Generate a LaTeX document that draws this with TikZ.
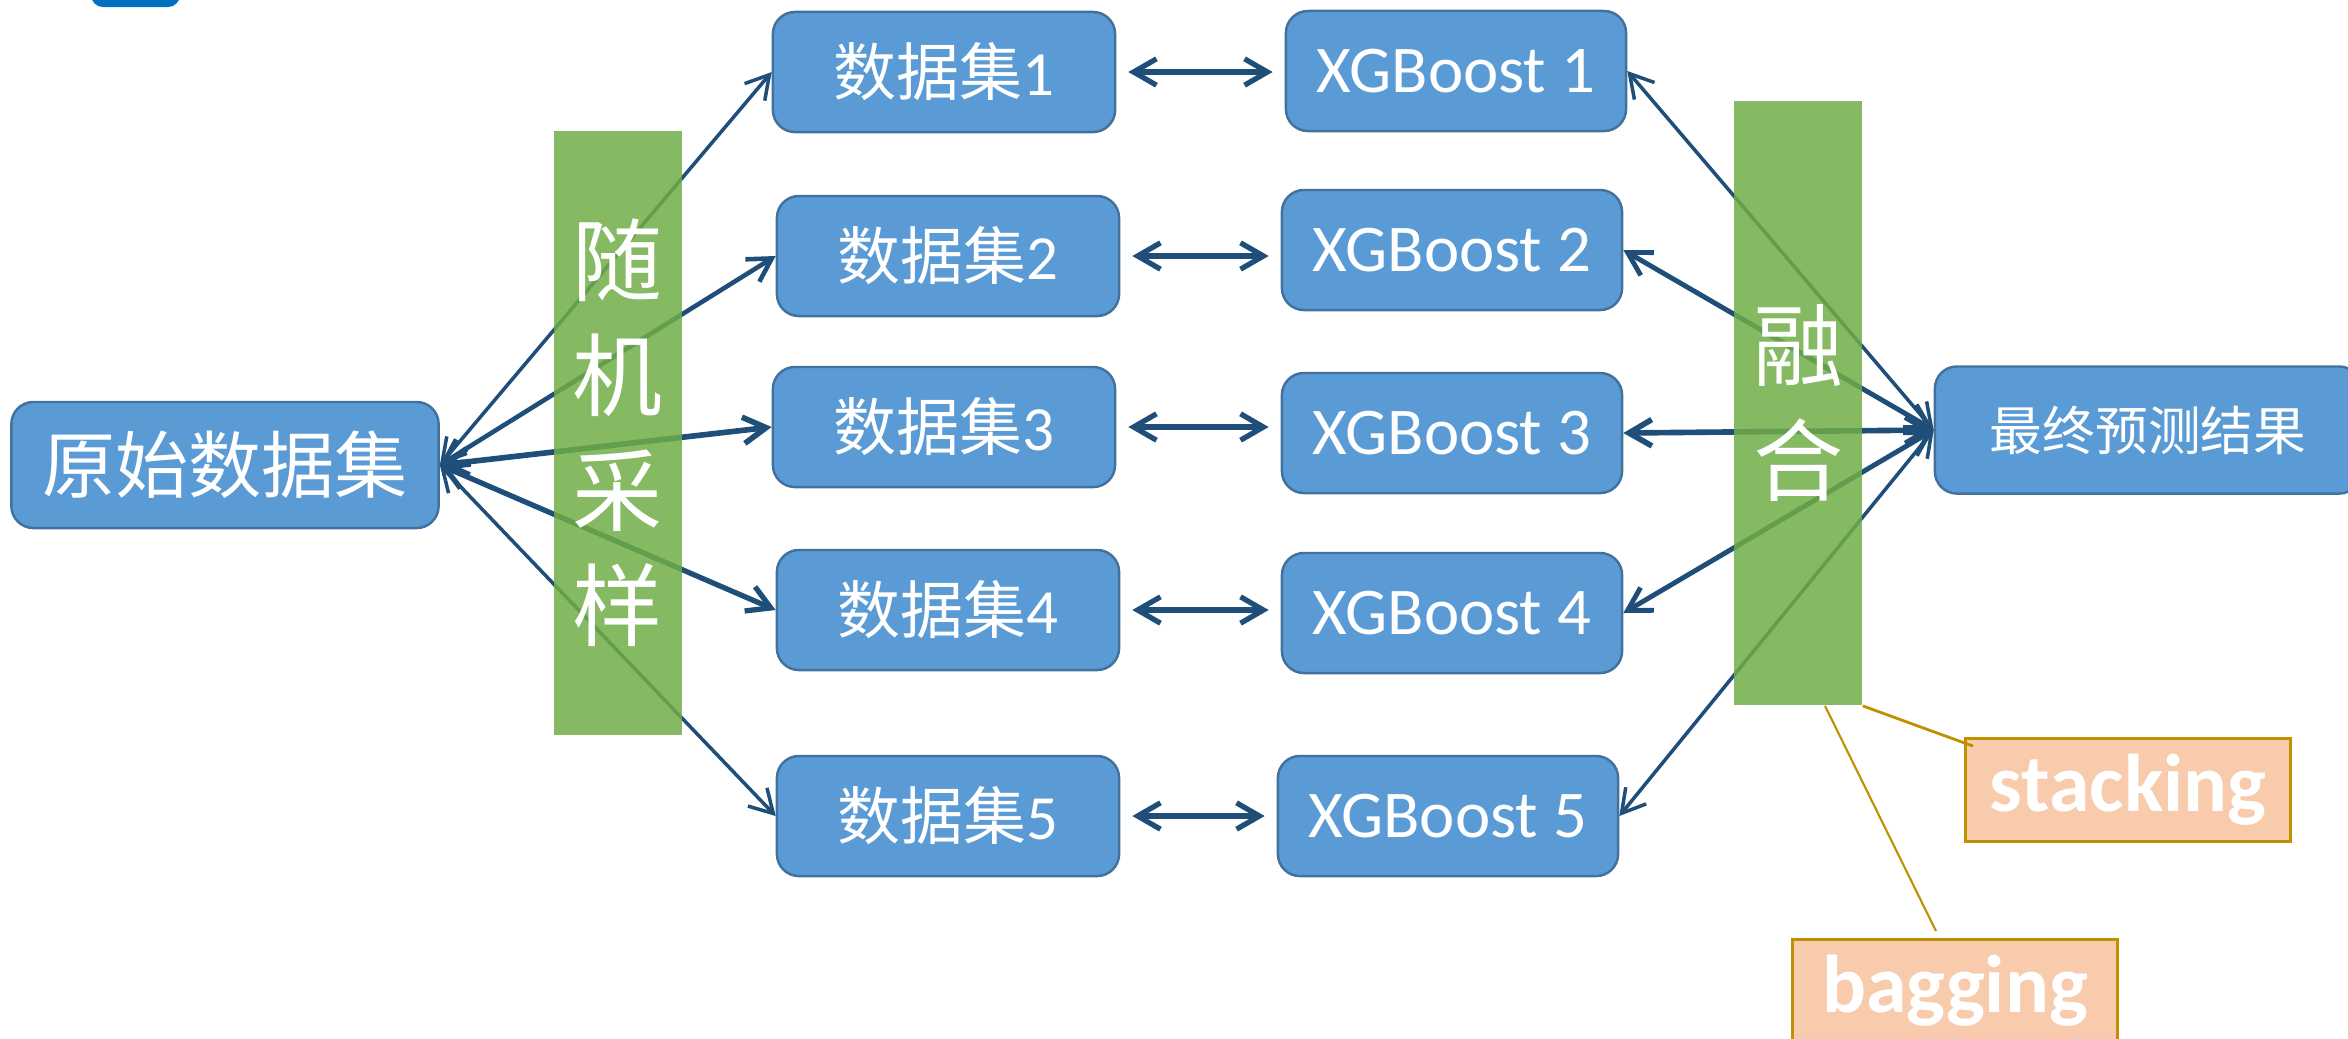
\documentclass[tikz,border=0pt]{standalone}
\usepackage{fontspec}
\setmainfont{Carlito}
\newfontfamily\cjk{Noto Sans CJK SC}
\usetikzlibrary{calc}
\usetikzlibrary{arrows.meta}

\definecolor{boxblue}{RGB}{91,155,213}
\definecolor{boxedge}{RGB}{65,113,156}
\definecolor{arrowblue}{RGB}{31,78,121}
\definecolor{bargreen}{RGB}{112,173,71}
\definecolor{tagfill}{RGB}{248,203,173}
\definecolor{tagedge}{RGB}{191,144,0}
\definecolor{cornerblue}{RGB}{0,112,192}

\begin{document}
\begin{tikzpicture}[x=0.01cm,y=-0.01cm,
  blk/.style={draw=boxedge,line width=0.7pt,fill=boxblue,rounded corners=0.22cm,text=white,inner sep=0pt,minimum height=1.2cm},
  dset/.style={blk,minimum width=3.42cm,font=\fontsize{17.9}{20}\selectfont},
  xgb/.style={blk,minimum width=3.4cm,font=\fontsize{19}{22}\selectfont},
  greenbar/.style={fill=bargreen,fill opacity=0.85,text opacity=1,text=white,inner sep=0pt,minimum width=1.28cm,minimum height=6.04cm,align=center,font=\cjk\fontsize{25.6}{32.7}\selectfont},
  tag/.style={draw=tagedge,line width=0.8pt,fill=tagfill,text=white,inner sep=0pt,minimum width=3.25cm,minimum height=1.03cm,font=\bfseries\fontsize{23.3}{26}\selectfont},
  link/.style={arrowblue,{Straight Barb[length=6.5pt,width=7.5pt]}-{Straight Barb[length=6.5pt,width=7.5pt]}}
]

\useasboundingbox (0,0) rectangle (2348,1038);
\clip (0,0) rectangle (2348,1038);

\fill[cornerblue,rounded corners=0.12cm] (91,-40) rectangle (180,7);

\node[blk,minimum width=4.27cm,minimum height=1.26cm,font=\cjk\fontsize{20.8}{24}\selectfont] (orig) at (225,465) {原始数据集};

\foreach \i/\x/\y in {1/944/72,2/948/256,3/944/427,4/948/610,5/948/816}
  \node[dset] (ds\i) at (\x,\y) {{\cjk 数据集}\i};

\foreach \i/\x/\y in {1/1456/71,2/1452/250,3/1452/433,4/1452/613,5/1448/816}
  \node[xgb] (xgb\i) at (\x,\y) {XGBoost \i};

\node[blk,minimum width=4.26cm,minimum height=1.27cm,font=\cjk\fontsize{15}{18}\selectfont] (final) at (2148,430) {最终预测结果};

% fans
\foreach \i/\w in {1/1.0,2/1.3,3/1.6,4/1.5,5/1.0}
  \draw[link,line width=\w pt] (orig.east) -- (ds\i.west);
\foreach \i/\w in {1/1.0,2/1.4,3/1.6,4/1.4,5/1.0}
  \draw[link,line width=\w pt] (final.west) -- (xgb\i.east);

\foreach \i in {1,...,5}
  \draw[link,line width=1.5pt,shorten >=0.12cm,shorten <=0.12cm] (ds\i.east) -- (ds\i.east -| xgb\i.west);

\node[greenbar] (sampbar) at (618,433) {随\\机\\采\\样};
\node[greenbar] (fusebar) at (1798,403) {融\\合};

\node[tag] (stack) at (2128,790) {stacking};
\node[tag] (bag) at (1955,991) {bagging};

\draw[tagedge,line width=0.8pt] (fusebar.south east) -- ($(stack.north west)+(9,9)$);
\draw[tagedge,line width=0.6pt] ($(fusebar.south)+(27,0)$) -- ($(bag.north)+(-19,-7)$);

\end{tikzpicture}
\end{document}
